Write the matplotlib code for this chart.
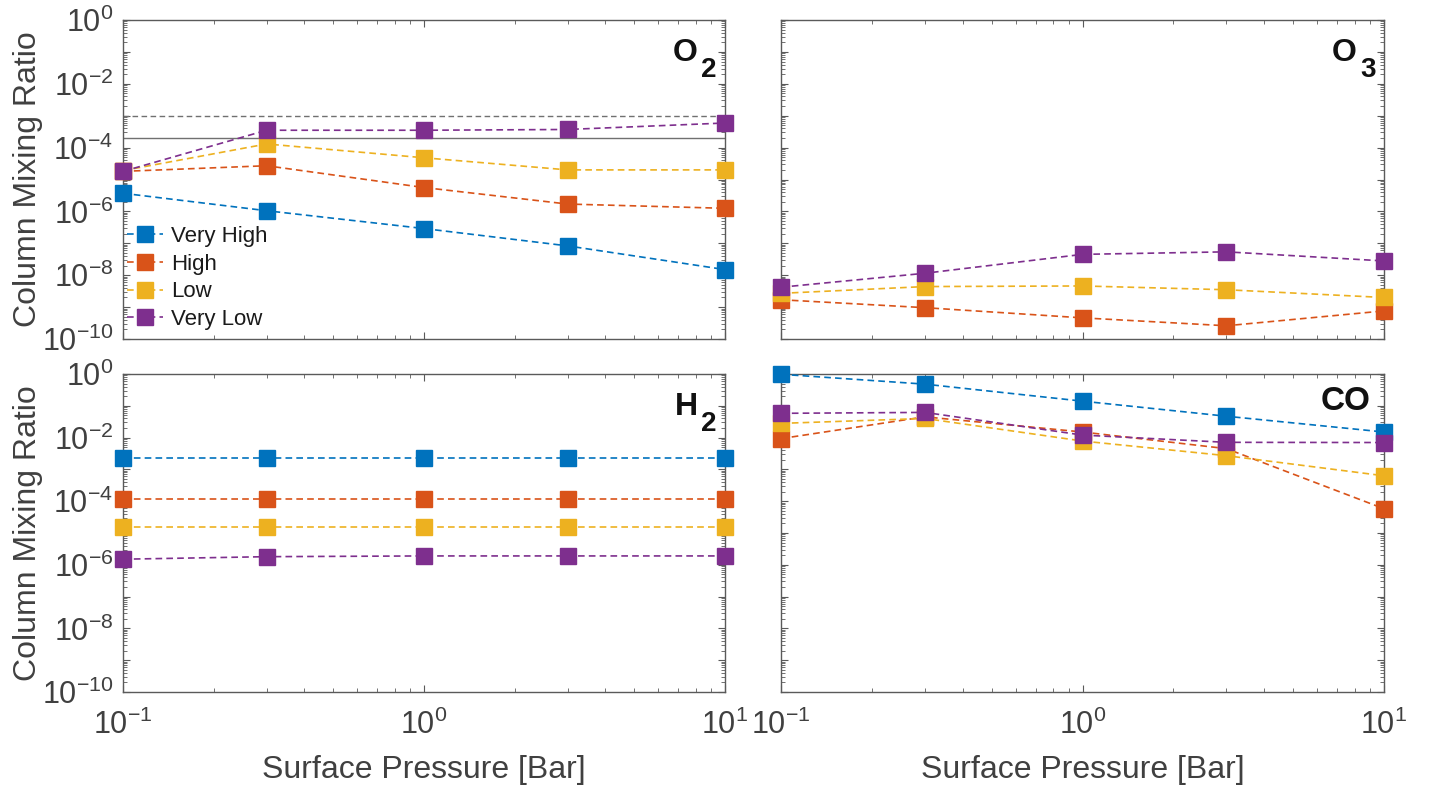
import matplotlib
matplotlib.use("Agg")
import matplotlib.pyplot as plt
import numpy as np
from matplotlib.ticker import LogLocator, NullFormatter, FixedLocator, FixedFormatter
from matplotlib.transforms import offset_copy

plt.rcParams['font.family'] = ['Liberation Sans', 'DejaVu Sans']
plt.rcParams['mathtext.fontset'] = 'custom'
plt.rcParams['mathtext.rm'] = 'Liberation Sans'
plt.rcParams['mathtext.it'] = 'Liberation Sans:italic'
plt.rcParams['mathtext.bf'] = 'Liberation Sans:bold'

pressure = [0.1, 0.3, 1.0, 3.0, 10.0]
series_names = ["Very High", "High", "Low", "Very Low"]
colors = ["#0072BD", "#D95319", "#EDB120", "#7E2F8E"]

# O2
o2_very_high = [3.7e-6, 1.05e-6, 2.9e-7, 8.3e-8, 1.5e-8]
o2_high = [1.8e-5, 2.7e-5, 5.6e-6, 1.7e-6, 1.25e-6]
o2_low = [1.9e-5, 1.3e-4, 4.8e-5, 2.0e-5, 2.0e-5]
o2_very_low = [1.8e-5, 3.5e-4, 3.5e-4, 3.7e-4, 5.9e-4]
o2_ref_dashed = 1.0e-3
o2_ref_solid = 2.0e-4

# O3 (Very High below axis range)
o3_high = [1.7e-9, 9.6e-10, 4.6e-10, 2.6e-10, 7.6e-10]
o3_low = [2.7e-9, 4.4e-9, 4.6e-9, 3.5e-9, 2.0e-9]
o3_very_low = [4.2e-9, 1.15e-8, 4.5e-8, 5.4e-8, 2.8e-8]

# H2
h2_very_high = [2.3e-3, 2.3e-3, 2.3e-3, 2.3e-3, 2.3e-3]
h2_high = [1.17e-4, 1.17e-4, 1.17e-4, 1.17e-4, 1.17e-4]
h2_low = [1.6e-5, 1.6e-5, 1.6e-5, 1.6e-5, 1.6e-5]
h2_very_low = [1.5e-6, 1.8e-6, 1.9e-6, 1.9e-6, 1.9e-6]

# CO
co_very_high = [0.98, 0.48, 0.14, 0.047, 0.015]
co_high = [0.0093, 0.045, 0.015, 0.0045, 5.8e-5]
co_low = [0.028, 0.040, 0.0078, 0.0027, 6.3e-4]
co_very_low = [0.058, 0.062, 0.012, 0.0071, 0.0070]

panels = [
    ("O", "2", [o2_very_high, o2_high, o2_low, o2_very_low]),
    ("O", "3", [None, o3_high, o3_low, o3_very_low]),
    ("H", "2", [h2_very_high, h2_high, h2_low, h2_very_low]),
    ("CO", None, [co_very_high, co_high, co_low, co_very_low]),
]

W, H = 1429, 785
fig = plt.figure(figsize=(W / 100, H / 100), dpi=100)

lefts = [123, 781]
widths = [602, 603]
tops = [20, 374]
heights = [319, 318]

text_color = "#404040"
axis_color = "#5a5a5a"
dash = (0, (4, 2.5))

axes = []
for r in range(2):
    for c in range(2):
        ax = fig.add_axes([lefts[c] / W, 1 - (tops[r] + heights[r]) / H,
                           widths[c] / W, heights[r] / H])
        axes.append((r, c, ax))

for (r, c, ax), (sp, sub, data) in zip(axes, panels):
    ax.set_xscale('log')
    ax.set_yscale('log')
    for name, col, vals in zip(series_names, colors, data):
        if vals is None:
            continue
        ax.plot(pressure, vals, linestyle=dash, color=col, marker='s',
                markersize=11, markeredgecolor=col, linewidth=1.2, label=name,
                clip_on=False, zorder=3)
    if r == 0 and c == 0:
        ax.axhline(o2_ref_dashed, color="#707070", linestyle=dash, linewidth=1.0, zorder=2)
        ax.axhline(o2_ref_solid, color="#707070", linestyle='-', linewidth=1.0, zorder=2)
        leg = ax.legend(loc='upper left', bbox_to_anchor=(0.0, 0.368), frameon=False,
                        fontsize=16, handlelength=1.6, handletextpad=0.35,
                        labelspacing=0.3, borderaxespad=0.0, borderpad=0.2)
        for t in leg.get_texts():
            t.set_color("#1a1a1a")
    ax.set_xlim(0.1, 10)
    ax.set_ylim(1e-10, 1)

    # ticks
    ax.yaxis.set_major_locator(FixedLocator([10.0 ** k for k in range(-10, 1)]))
    if c == 0:
        ax.yaxis.set_major_formatter(FixedFormatter(
            [(r'$10^{%d}$' % k) if k % 2 == 0 else '' for k in range(-10, 1)]))
    else:
        ax.yaxis.set_major_formatter(NullFormatter())
    ax.yaxis.set_minor_locator(LogLocator(base=10, subs=np.arange(2, 10), numticks=50))
    ax.yaxis.set_minor_formatter(NullFormatter())
    ax.xaxis.set_major_locator(FixedLocator([0.1, 1, 10]))
    if r == 1:
        ax.xaxis.set_major_formatter(FixedFormatter([r'$10^{-1}$', r'$10^{0}$', r'$10^{1}$']))
    else:
        ax.xaxis.set_major_formatter(NullFormatter())
    ax.xaxis.set_minor_locator(LogLocator(base=10, subs=np.arange(2, 10), numticks=50))
    ax.xaxis.set_minor_formatter(NullFormatter())
    ax.tick_params(which='both', direction='in', top=True, right=True,
                   color=axis_color, labelcolor=text_color, labelsize=22)
    ax.tick_params(axis='y', which='major', length=5, width=0.8, pad=7)
    ax.tick_params(axis='x', which='major', length=5, width=0.8, pad=13)
    ax.tick_params(which='minor', length=3, width=0.6)
    for s in ax.spines.values():
        s.set_color(axis_color)
        s.set_linewidth(1.0)

    if c == 0:
        ax.set_ylabel("Column Mixing Ratio", fontsize=23, color=text_color)
        ax.yaxis.set_label_coords(-0.133, 0.5)
    if r == 1:
        ax.set_xlabel("Surface Pressure [Bar]", fontsize=23, color=text_color, labelpad=10)

    # species label
    if sub is None:
        tr = offset_copy(ax.transAxes, fig=fig, x=-14, y=-36, units='dots')
        ax.text(1.0, 1.0, sp, transform=tr, ha='right', va='baseline',
                fontsize=24, fontweight='bold', color="#111111", zorder=5)
    else:
        tr_main = offset_copy(ax.transAxes, fig=fig, x=-27, y=-41, units='dots')
        ax.text(1.0, 1.0, sp, transform=tr_main, ha='right', va='baseline',
                fontsize=23, fontweight='bold', color="#111111", zorder=5)
        tr_sub = offset_copy(ax.transAxes, fig=fig, x=-24, y=-57, units='dots')
        ax.text(1.0, 1.0, sub, transform=tr_sub, ha='left', va='baseline',
                fontsize=20, fontweight='bold', color="#111111", zorder=5)

fig.savefig("out.png", dpi=100)
